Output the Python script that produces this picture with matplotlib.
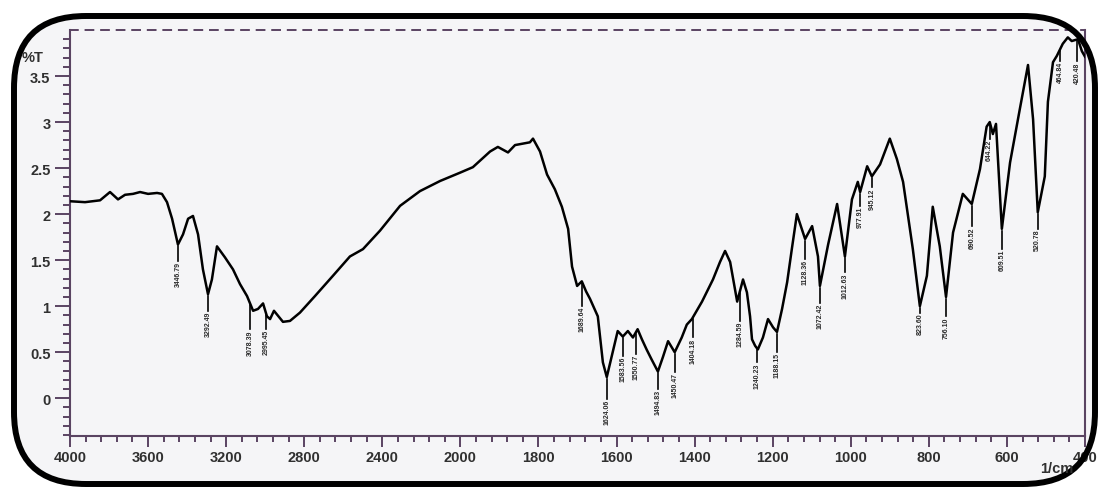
import numpy as np
import matplotlib
matplotlib.use('Agg')
import matplotlib.pyplot as plt
from matplotlib.patches import FancyBboxPatch
from matplotlib.ticker import FixedLocator

# spectrum (1/cm, %T)
wavenumber = [4000, 3923, 3846, 3795, 3754, 3718, 3677, 3641, 3600, 3554, 3529, 3503,
              3477, 3447, 3421, 3395, 3370, 3344, 3319, 3293, 3273, 3247, 3206, 3165,
              3129, 3093, 3062, 3037, 3011, 2991, 2975, 2955, 2909, 2873, 2822, 2745,
              2653, 2566, 2499, 2412, 2309, 2207, 2104, 2002, 1968, 1924, 1904, 1878,
              1860, 1822, 1814, 1796, 1778, 1758, 1740, 1724, 1714, 1701, 1689, 1678,
              1668, 1648, 1635, 1625, 1612, 1597, 1584, 1571, 1558, 1546, 1535, 1523,
              1510, 1494, 1481, 1468, 1451, 1433, 1420, 1407, 1381, 1353, 1335, 1322,
              1309, 1291, 1276, 1266, 1258, 1253, 1245, 1238, 1225, 1212, 1199, 1189,
              1176, 1163, 1151, 1138, 1117, 1099, 1084, 1079, 1058, 1035, 1015, 997,
              982, 976, 958, 946, 925, 900, 882, 866, 841, 823, 805, 790, 772, 756,
              738, 713, 690, 669, 652, 644, 636, 628, 613, 592, 567, 546, 533, 521,
              503, 495, 482, 472, 457, 444, 434, 418, 408, 400]
transmittance = [2.14, 2.13, 2.15, 2.24, 2.16, 2.21, 2.22, 2.24, 2.22, 2.23, 2.22, 2.13,
                 1.95, 1.67, 1.78, 1.95, 1.98, 1.78, 1.40, 1.13, 1.29, 1.65, 1.53, 1.40,
                 1.24, 1.11, 0.95, 0.97, 1.03, 0.89, 0.86, 0.95, 0.83, 0.84, 0.93, 1.11,
                 1.33, 1.54, 1.62, 1.82, 2.09, 2.25, 2.36, 2.45, 2.51, 2.68, 2.73, 2.67,
                 2.75, 2.78, 2.82, 2.68, 2.43, 2.27, 2.08, 1.84, 1.43, 1.22, 1.27, 1.16,
                 1.08, 0.89, 0.39, 0.23, 0.46, 0.73, 0.67, 0.73, 0.66, 0.75, 0.64, 0.53,
                 0.42, 0.29, 0.45, 0.62, 0.50, 0.66, 0.80, 0.86, 1.05, 1.29, 1.48, 1.60,
                 1.48, 1.05, 1.29, 1.15, 0.89, 0.64, 0.57, 0.53, 0.66, 0.86, 0.77, 0.72,
                 0.97, 1.26, 1.62, 2.00, 1.73, 1.87, 1.54, 1.22, 1.67, 2.11, 1.54, 2.16,
                 2.35, 2.24, 2.52, 2.41, 2.54, 2.82, 2.60, 2.35, 1.62, 1.00, 1.33, 2.08,
                 1.65, 1.10, 1.80, 2.22, 2.11, 2.49, 2.95, 3.00, 2.87, 2.98, 1.84, 2.56,
                 3.14, 3.62, 3.03, 2.02, 2.41, 3.22, 3.65, 3.72, 3.85, 3.92, 3.88, 3.90,
                 3.77, 3.71]

# peak labels
peak_wn = [3447, 3293, 3078, 2996, 1689, 1625, 1584, 1550, 1494, 1451, 1404, 1284,
           1240, 1189, 1117, 1079, 1015, 976, 946, 823, 756, 690, 644, 613, 521, 464, 420]
peak_text = ['3446.79', '3292.49', '3078.39', '2995.45', '1689.64', '1624.06', '1583.56',
             '1550.77', '1494.83', '1450.47', '1404.18', '1284.59', '1240.23', '1188.15',
             '1128.36', '1072.42', '1012.63', '977.91', '945.12', '823.60', '756.10',
             '690.52', '644.22', '609.51', '520.78', '464.84', '420.48']
peak_top = [1.49, 0.95, 0.75, 0.75, 1.00, -0.01, 0.46, 0.48, 0.10, 0.28, 0.66, 0.84,
            0.39, 0.50, 1.51, 1.04, 1.37, 2.09, 2.29, 0.93, 0.89, 1.87, 2.82, 1.62,
            1.84, 3.66, 3.66]

xticks_major = [4000, 3600, 3200, 2800, 2400, 2000, 1800, 1600, 1400, 1200, 1000, 800, 600, 400]
yticks_major = [0, 0.5, 1, 1.5, 2, 2.5, 3, 3.5]


def fwd(w):
    w = np.asarray(w, dtype=float)
    return np.where(w < 2000, w / 200.0, 10 + (w - 2000) / 400.0)


def inv(u):
    u = np.asarray(u, dtype=float)
    return np.where(u < 10, u * 200.0, 2000 + (u - 10) * 400.0)


purple = '#5a4462'
inner = '#f5f5f7'
frame_box = (14, 17, 1081, 468)   # x, y, w, h in pixels
frame_style = 'round,pad=0,rounding_size=72'

fig = plt.figure(figsize=(11, 4.89), dpi=100)
fig.patch.set_facecolor('white')

bg = fig.add_axes([0, 0, 1, 1], zorder=0)
bg.set_xlim(0, 1100)
bg.set_ylim(489, 0)
bg.axis('off')
bg.add_patch(FancyBboxPatch(frame_box[:2], frame_box[2], frame_box[3],
                            boxstyle=frame_style, fc=inner, ec='none'))

ax = fig.add_axes([70 / 1100, 1 - 437 / 489, 1015 / 1100, 406 / 489], zorder=1)
ax.set_facecolor(inner)
ax.plot(wavenumber, transmittance, color='black', lw=1.8, zorder=3)
ax.set_xscale('function', functions=(fwd, inv))
ax.set_xlim(4000, 400)
ax.set_ylim(-0.41, 4.0)

wn_rev = np.array(wavenumber[::-1], dtype=float)
tr_rev = np.array(transmittance[::-1], dtype=float)
for w, txt, top in zip(peak_wn, peak_text, peak_top):
    t = np.interp(w, wn_rev, tr_rev)
    ax.plot([w, w], [t - 0.02, top], color='black', lw=1.2, zorder=3)
    ax.text(w, top, txt, rotation=90, ha='center', va='top', fontsize=5,
            color='#2a2a2a', family='Liberation Sans', fontweight='bold', zorder=4)

minor_x = list(np.arange(4000, 2000, -80)) + list(np.arange(2000, 399, -40))
ax.xaxis.set_major_locator(FixedLocator(xticks_major))
ax.xaxis.set_minor_locator(FixedLocator(minor_x))
ax.set_xticklabels([str(v) for v in xticks_major])
ax.yaxis.set_major_locator(FixedLocator(yticks_major))
ax.yaxis.set_minor_locator(FixedLocator(np.round(np.arange(-0.4, 4.0, 0.1), 2)))
ax.set_yticklabels(['%g' % v for v in yticks_major])

ax.tick_params(axis='both', which='both', direction='out', color=purple,
               labelcolor='#303030', labelsize=10.5)
ax.tick_params(axis='y', which='major', length=11, width=1.4, pad=3)
ax.tick_params(axis='y', which='minor', length=5, width=1.4)
ax.tick_params(axis='x', which='major', length=8, width=1.4, pad=2)
ax.tick_params(axis='x', which='minor', length=4, width=1.4)
for lab in ax.get_xticklabels() + ax.get_yticklabels():
    lab.set_fontweight('bold')
    lab.set_family('Liberation Sans')

for side in ['left', 'right', 'bottom']:
    ax.spines[side].set_color(purple)
    ax.spines[side].set_linewidth(1.5)
ax.spines['top'].set_color(purple)
ax.spines['top'].set_linewidth(1.4)
ax.spines['top'].set_linestyle((0, (4, 4)))

ov = fig.add_axes([0, 0, 1, 1], zorder=3)
ov.set_xlim(0, 1100)
ov.set_ylim(489, 0)
ov.axis('off')
border = FancyBboxPatch(frame_box[:2], frame_box[2], frame_box[3],
                        boxstyle=frame_style, fc='none', ec='black', lw=4.3)
ov.add_patch(border)
t1 = ov.text(43, 58, '%T', ha='right', va='center', fontsize=10.5, fontweight='bold',
             color='#303030', family='Liberation Sans')
t2 = ov.text(1040, 469, '1/cm', ha='left', va='center', fontsize=10.5, fontweight='bold',
             color='#303030', family='Liberation Sans')
for t in [t1, t2] + ax.get_xticklabels():
    t.set_clip_path(border)

fig.savefig('out.png', dpi=100)
